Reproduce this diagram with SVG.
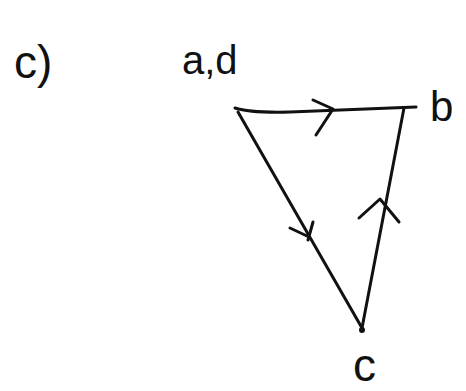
<svg xmlns="http://www.w3.org/2000/svg" width="466" height="391" viewBox="0 0 466 391">
<style>
.e{fill:none;stroke:#111;stroke-width:3;stroke-linecap:round;stroke-linejoin:round}
.t{font-family:"Liberation Sans",Arial,sans-serif;fill:#111}
</style>
<rect width="466" height="391" fill="#fff"/>
<g id="connectors">
<path class="e" d="M235,108 Q250,113 290,112 L416,107"/>
<path class="e" d="M313,100 L333,109 L316,135"/>
<path class="e" d="M238,112 L362,328"/>
<path class="e" d="M290,228 L307,236 M313,222 L308,240"/>
<path class="e" d="M362,328 L404,108"/>
<path class="e" d="M359,218 L380,199 L399,222"/>
</g>
<g id="node-label"><text class="t" x="14" y="78" font-size="46">c)</text></g>
<g id="node-a"><text class="t" x="182" y="74" font-size="40">a,d</text></g>
<g id="node-b"><text class="t" x="430" y="121" font-size="42">b</text></g>
<g id="node-c"><circle cx="362" cy="330" r="3" fill="#111"/><text class="t" x="353" y="381" font-size="46">c</text></g>
</svg>
